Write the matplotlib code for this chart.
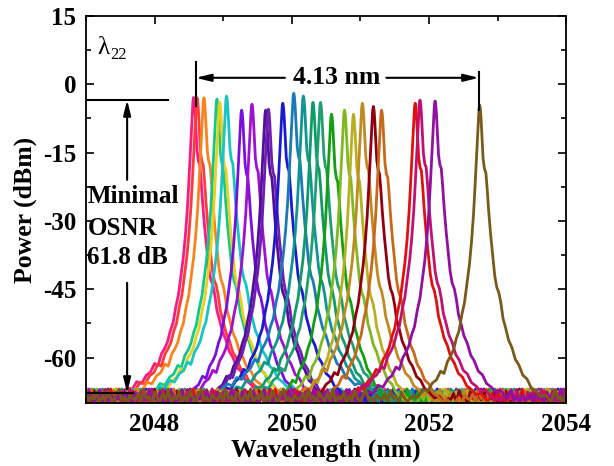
import numpy as np
import matplotlib
matplotlib.use("Agg")
import matplotlib.pyplot as plt
from matplotlib.ticker import MultipleLocator

plt.rcParams['font.family'] = ['Liberation Serif', 'DejaVu Serif']
plt.rcParams['font.weight'] = 'bold'
plt.rcParams['axes.unicode_minus'] = False

# peak wavelength (nm), peak power (dBm) and colour of each channel
peak_wl = [2048.57, 2048.62, 2048.72, 2048.91, 2048.95, 2049.05, 2049.27, 2049.42,
           2049.62, 2049.66, 2049.87, 2050.03, 2050.17, 2050.31, 2050.42, 2050.58,
           2050.77, 2050.90, 2051.03, 2051.19, 2051.31, 2051.80, 2051.87, 2052.09,
           2052.74]
peak_db = [-2.9, -3.0, -3.0, -3.3, -4.0, -2.6, -5.7, -4.4,
           -5.7, -5.5, -4.2, -2.0, -2.6, -4.0, -4.0, -6.6,
           -5.7, -6.6, -4.2, -4.9, -5.7, -4.2, -3.5, -3.7,
           -4.6]
colors = ['#f81b84', '#ff3a3a', '#f7841f', '#10c88a', '#e8d020', '#18c4c4', '#7a10e0', '#a010d0',
          '#50109a', '#6e1eb0', '#1a1ad0', '#1a7ab8', '#119494', '#0f9a6a', '#20a070', '#10a010',
          '#80b820', '#b8b020', '#c08a20', '#900010', '#c8681a', '#e01010', '#c01070', '#9010a0',
          '#7a5a1a']

# line shape: offset from peak (nm), drop below peak (dB)
left_off = [-1.05, -0.97, -0.90, -0.83, -0.76, -0.69, -0.63, -0.57, -0.52, -0.47, -0.42,
            -0.38, -0.34, -0.30, -0.26, -0.22, -0.18, -0.15, -0.12, -0.09, -0.07, -0.05,
            -0.035, -0.02, -0.01, 0.0]
left_drop = [65.0, 63.8, 64.2, 62.4, 62.8, 61.0, 60.3, 58.4, 58.9, 56.3, 55.0,
             53.6, 51.2, 49.5, 46.0, 43.2, 38.5, 35.0, 30.2, 24.0, 18.5, 12.5,
             7.8, 3.2, 0.8, 0.0]
right_off = [0.01, 0.02, 0.035, 0.05, 0.07, 0.09, 0.11, 0.13, 0.16, 0.19, 0.22, 0.25,
             0.28, 0.31, 0.34, 0.38, 0.42, 0.47, 0.52, 0.57, 0.63, 0.69, 0.75, 0.82,
             0.89, 0.96, 1.04]
right_drop = [0.8, 3.0, 7.5, 11.8, 14.0, 14.8, 18.5, 23.0, 28.5, 33.0, 37.5, 40.0,
              41.2, 43.5, 46.8, 49.0, 51.5, 53.2, 55.8, 57.0, 59.3, 60.1, 62.0, 62.8,
              64.0, 63.6, 65.2]

# noise floor (dBm), repeated along the span
floor_db = [-69.2, -67.9, -69.8, -67.2, -69.0, -68.5, -70.3, -67.6, -68.8, -69.6,
            -68.0, -69.3, -66.9, -69.9, -68.6, -69.1, -67.5, -70.1, -68.4, -69.5,
            -67.3, -68.9, -69.7, -68.2, -67.0, -69.4, -68.7, -70.0, -68.3, -69.0]

prof_off = np.array(left_off + right_off)
prof_drop = np.array(left_drop + right_drop)
floor_wl = np.arange(2047.0, 2054.01, 0.04)

fig = plt.figure(figsize=(6.14, 4.66), dpi=100)
ax = fig.add_axes([0.140, 0.135, 0.782, 0.831])

for i in range(len(peak_wl)):
    fl = np.resize(np.roll(floor_db, i * 7), len(floor_wl))
    keep = np.abs(floor_wl - peak_wl[i]) > 1.06
    x = np.concatenate([floor_wl[keep], peak_wl[i] + prof_off])
    y = np.concatenate([fl[keep], peak_db[i] - prof_drop])
    order = np.argsort(x, kind='stable')
    ax.plot(x[order], y[order], color=colors[i], lw=2.0)

ax.set_xlim(2047, 2054)
ax.set_ylim(-70, 15)
ax.xaxis.set_major_locator(MultipleLocator(2))
ax.xaxis.set_minor_locator(MultipleLocator(1))
ax.yaxis.set_major_locator(MultipleLocator(15))
ax.yaxis.set_minor_locator(MultipleLocator(7.5))
ax.tick_params(which='both', direction='in', top=True, right=True, labelsize=18, width=1.2)
ax.tick_params(which='major', length=6, pad=7)
ax.tick_params(which='minor', length=3.5)
for s in ax.spines.values():
    s.set_linewidth(1.3)
ax.set_xlabel('Wavelength (nm)', fontsize=18.5, fontweight='bold', labelpad=2)
ax.set_ylabel('Power (dBm)', fontsize=18.5, fontweight='bold', labelpad=4)

# channel label
ax.text(2047.16, 8.0, 'λ', fontsize=18, fontweight='normal', ha='left', va='center')
ax.text(2047.35, 6.4, '22', fontsize=12, fontweight='normal', ha='left', va='center')

# span annotation
ax.plot([2048.6, 2048.6], [4.9, -4.7], color='k', lw=1.5)
ax.plot([2052.73, 2052.73], [2.7, -5.6], color='k', lw=1.5)
arw = dict(arrowstyle='-|>,head_length=0.9,head_width=0.22', color='k', lw=1.5,
           shrinkA=0, shrinkB=0)
ax.annotate('', xy=(2048.6, 1.4), xytext=(2049.9, 1.4), arrowprops=arw)
ax.annotate('', xy=(2052.73, 1.4), xytext=(2051.38, 1.4), arrowprops=arw)
ax.text(2050.65, 1.4, '4.13 nm', fontsize=18.5, ha='center', va='center')

# OSNR annotation
ax.plot([2047.0, 2048.2], [-3.45, -3.45], color='k', lw=1.5)
ax.plot([2047.0, 2047.69], [-67.8, -67.8], color='k', lw=1.5)
ax.annotate('', xy=(2047.6, -3.45), xytext=(2047.6, -21.0), arrowprops=arw)
ax.annotate('', xy=(2047.6, -67.8), xytext=(2047.6, -43.6), arrowprops=arw)
ax.text(2047.02, -24.7, 'Minimal', fontsize=18, ha='left', va='center')
ax.text(2047.02, -31.6, 'OSNR', fontsize=18, ha='left', va='center')
ax.text(2047.02, -38.1, '61.8 dB', fontsize=18, ha='left', va='center')

fig.savefig('out.png', dpi=100)
